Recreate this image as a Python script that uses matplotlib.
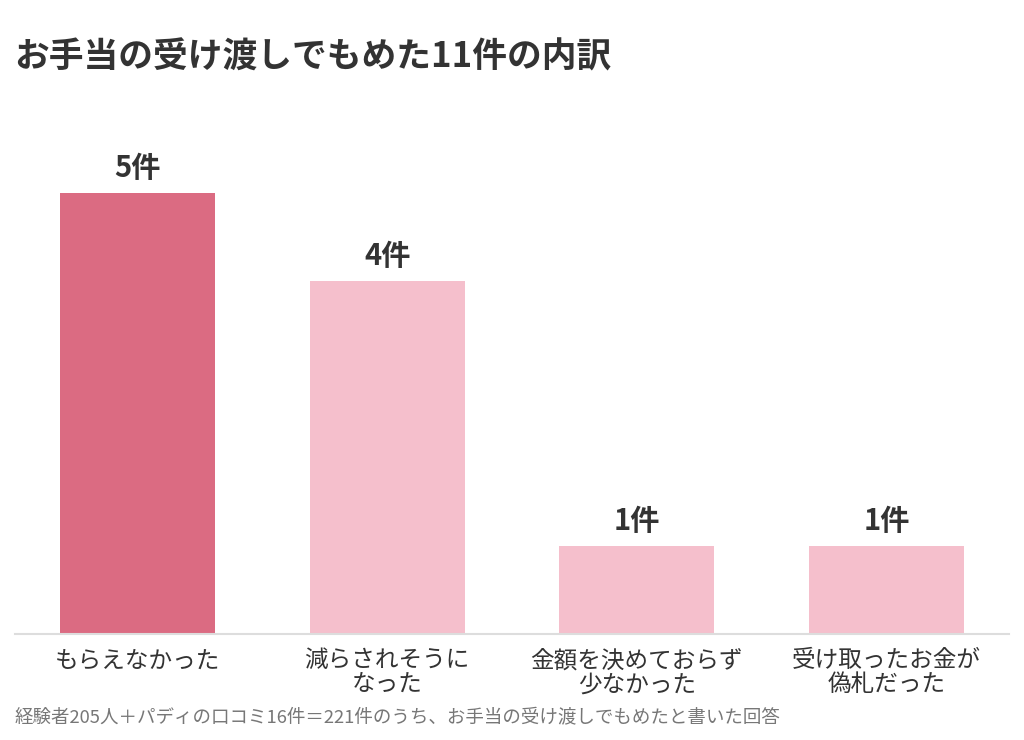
import matplotlib
matplotlib.use('Agg')
from matplotlib import pyplot as plt

plt.rcParams['font.family'] = ['Noto Sans CJK JP', 'DejaVu Sans']

categories = ['もらえなかった', '減らされそうに\nなった', '金額を決めておらず\n少なかった', '受け取ったお金が\n偽札だった']
counts = [5, 4, 1, 1]
value_labels = ['5件', '4件', '1件', '1件']
title = 'お手当の受け渡しでもめた11件の内訳'
note = '経験者205人＋パディの口コミ16件＝221件のうち、お手当の受け渡しでもめたと書いた回答'

colors = ['#db6b82', '#f5bfcc', '#f5bfcc', '#f5bfcc']
text_color = '#333333'

fig = plt.figure(figsize=(10.24, 7.40), dpi=100)
ax = fig.add_axes([15 / 1024, 106 / 740, 994 / 1024, 512 / 740])

x = range(len(categories))
bars = ax.bar(x, counts, width=0.62, color=colors, zorder=2)

for b, lab in zip(bars, value_labels):
    ax.annotate(lab, (b.get_x() + b.get_width() / 2, b.get_height()),
                xytext=(0, 7), textcoords='offset points',
                ha='center', va='bottom', fontsize=21, fontweight='bold',
                color=text_color)

ax.set_xlim(-0.49, 3.49)
ax.set_ylim(0, 5.8)
ax.set_xticks(list(x))
ax.set_xticklabels(categories, fontsize=17, color=text_color, linespacing=1.05)
ax.tick_params(axis='x', length=0, pad=11)
ax.set_yticks([])
for s in ['top', 'right', 'left']:
    ax.spines[s].set_visible(False)
ax.spines['bottom'].set_color('#dddddd')
ax.spines['bottom'].set_linewidth(1.5)

fig.text(14 / 1024, 1 - 57 / 740, title, fontsize=25, fontweight='bold',
         color=text_color, ha='left', va='center')
fig.text(15 / 1024, 1 - 718 / 740, note, fontsize=13.3, color='#777777',
         ha='left', va='center')

fig.savefig('out.png', dpi=100, facecolor='white')
